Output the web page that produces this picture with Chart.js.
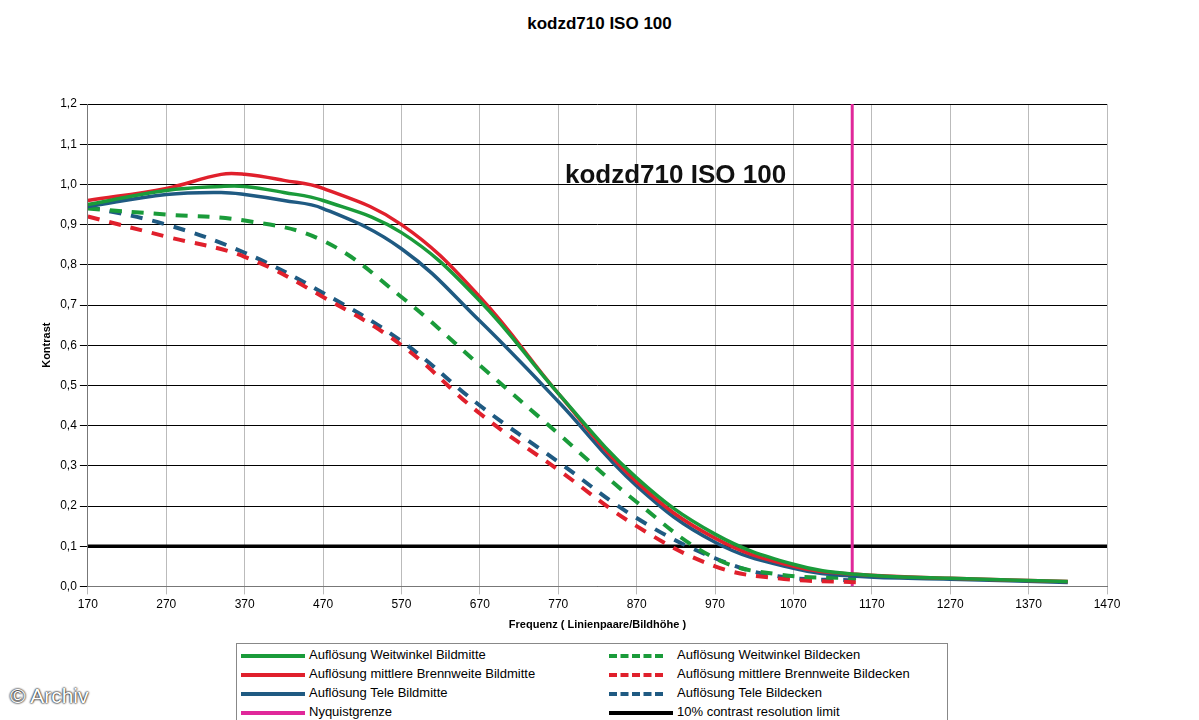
<!DOCTYPE html><html><head><meta charset="utf-8">
<script src="https://cdn.jsdelivr.net/npm/chart.js@4/dist/chart.umd.min.js"></script>
<style>body{margin:0;background:#fff;font-family:Arial,"Liberation Sans",sans-serif;}
#wrap{position:absolute;left:0;top:0;width:1199px;height:640px;}
#leg{position:absolute;left:236px;top:643px;width:712px;height:77px;border:1px solid #888;border-bottom:none;box-sizing:border-box;font-size:13px;}
.it{position:absolute;height:18px;line-height:18px;}
.sw{position:absolute;top:8px;width:64px;height:0;}
#t{position:absolute;top:14px;width:1199px;text-align:center;font-weight:bold;font-size:17px;}
#ar{position:absolute;left:10px;top:684px;font-size:21px;color:#fff;text-shadow:0 0 2px #000,0 0 2px #000;}
</style></head><body>
<div id="t">kodzd710 ISO 100</div>
<div id="wrap"><canvas id="c" width="1199" height="640"></canvas></div>
<div id="leg"></div>
<div id="ar">© Archiv</div>
<script>
const freqSolid=[170,270,340,370,420,470,570,670,770,870,970,1070,1150,1270,1420];
const gwSolid=[0.95,0.985,0.995,0.995,0.98,0.96,0.88,0.71,0.48,0.27,0.13,0.055,0.03,0.02,0.012];
const rdSolid=[0.96,0.99,1.025,1.025,1.01,0.99,0.9,0.72,0.48,0.26,0.12,0.05,0.03,0.02,0.012];
const blSolid=[0.945,0.975,0.98,0.975,0.96,0.94,0.84,0.66,0.46,0.25,0.11,0.045,0.025,0.018,0.01];
const freqDash=[170,270,370,470,570,670,770,870,970,1050,1150];
const gwDash=[0.94,0.925,0.91,0.86,0.72,0.55,0.38,0.21,0.07,0.03,0.02];
const rdDash=[0.92,0.87,0.82,0.72,0.6,0.43,0.29,0.15,0.05,0.02,0.01];
const blDash=[0.945,0.9,0.83,0.73,0.61,0.45,0.31,0.17,0.07,0.025,0.015];
const nyquist=1145, limit=0.1;
const G='#1a9b3a',R='#e0202c',B='#1f5a82',M='#e0289a';
const pts=(xs,ys)=>xs.map((x,i)=>({x,y:ys[i]}));
const ds=(lab,xs,ys,c,dash)=>({label:lab,data:pts(xs,ys),borderColor:c,borderWidth:dash?4:3.5,borderDash:dash?[12,10]:[],pointRadius:0,tension:0.4,fill:false});
const sets=[ds('Auflösung Weitwinkel Bildmitte',freqSolid,gwSolid,G),
ds('Auflösung mittlere Brennweite Bildmitte',freqSolid,rdSolid,R),
ds('Auflösung Tele Bildmitte',freqSolid,blSolid,B),
ds('Auflösung Weitwinkel Bildecken',freqDash,gwDash,G,1),
ds('Auflösung mittlere Brennweite Bildecken',freqDash,rdDash,R,1),
ds('Auflösung Tele Bildecken',freqDash,blDash,B,1),
{label:'Nyquistgrenze',data:[{x:nyquist,y:0},{x:nyquist,y:1.2}],borderColor:M,borderWidth:3,pointRadius:0},
{label:'10% contrast resolution limit',data:[{x:170,y:limit},{x:1470,y:limit}],borderColor:'#000',borderWidth:3.5,pointRadius:0}];
const inner={id:'inner',afterDraw(ch){const c=ch.ctx;c.save();c.font='bold 26px Arial';c.fillStyle='#111';c.fillText('kodzd710 ISO 100',565,183);c.restore();}};
new Chart(document.getElementById('c'),{type:'line',data:{datasets:sets},plugins:[inner],
options:{responsive:false,animation:false,layout:{padding:{top:104,right:92,left:36,bottom:4}},
plugins:{legend:{display:false},tooltip:{enabled:false}},
scales:{x:{type:'linear',min:170,max:1470,ticks:{stepSize:100,color:'#000',font:{size:12},callback:v=>String(v)},grid:{color:'#bbb',drawTicks:true},border:{color:'#777'},
title:{display:true,text:'Frequenz ( Linienpaare/Bildhöhe )',font:{size:11,weight:'bold'},color:'#000'}},
y:{min:0,max:1.2,ticks:{stepSize:0.1,color:'#000',font:{size:12},callback:v=>v.toFixed(1).replace('.',',')},grid:{color:'#000'},border:{color:'#777'},
title:{display:true,text:'Kontrast',font:{size:11,weight:'bold'},color:'#000'}}}}});
const leg=document.getElementById('leg');
const items=[[sets[0],0,0],[sets[1],0,1],[sets[2],0,2],[sets[6],0,3],[sets[3],1,0],[sets[4],1,1],[sets[5],1,2],[sets[7],1,3]];
items.forEach(([d,col,row])=>{const x=col?372:4,y=2+row*19;
const sw=document.createElement('div');sw.className='sw';sw.style.left=x+'px';sw.style.top=(y+8)+'px';
sw.style.borderTop=(d.borderDash&&d.borderDash.length?'4px dashed ':'4px solid ')+d.borderColor;if(d.borderDash&&d.borderDash.length)sw.style.width='54px';
leg.appendChild(sw);const t=document.createElement('div');t.className='it';t.style.left=(x+68)+'px';t.style.top=y+'px';t.textContent=d.label;leg.appendChild(t);});
</script></body></html>
